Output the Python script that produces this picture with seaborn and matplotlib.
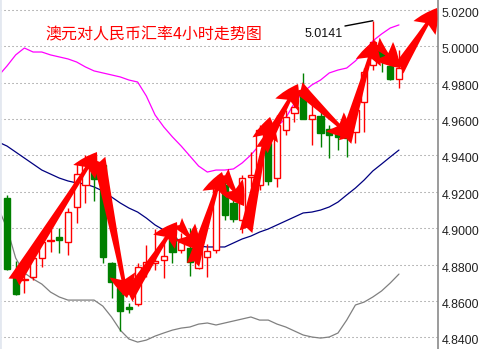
import numpy as np
import pandas as pd
import matplotlib
matplotlib.use("Agg")
import matplotlib.pyplot as plt
import matplotlib.transforms as mtransforms
from matplotlib.patches import Rectangle, FancyArrowPatch, ArrowStyle
import seaborn as sns

# ---------------- data (AUD/CNY 4h candles) ----------------
opens = [4.9166, 4.8754, 4.8715, 4.8732, 4.8836, 4.8930, 4.8952, 4.8924, 4.9117, 4.9238,
         4.9348, 4.9348, 4.8809, 4.8671, 4.8566, 4.8583, 4.8770, 4.8808, 4.8825, 4.8952,
         4.8880, 4.8891, 4.8781, 4.8842, 4.8880, 4.9238, 4.9139, 4.9045, 4.9281, 4.9238,
         4.9468, 4.9276, 4.9540, 4.9633, 4.9744, 4.9600, 4.9617, 4.9546, 4.9529, 4.9524,
         4.9529, 4.9694, 4.9898, 4.9980, 4.9892, 4.9820]
highs = [4.9183, 4.8819, 4.8825, 4.8897, 4.8979, 4.8996, 4.9001, 4.9111, 4.9359, 4.9403,
         4.9392, 4.9370, 4.8814, 4.8693, 4.8589, 4.8809, 4.8907, 4.8996, 4.8952, 4.9001,
         4.8974, 4.9001, 4.8907, 4.8913, 4.9249, 4.9276, 4.9166, 4.9293, 4.9419, 4.9568,
         4.9513, 4.9623, 4.9650, 4.9733, 4.9854, 4.9694, 4.9661, 4.9568, 4.9568, 4.9600,
         4.9678, 4.9881, 5.0141, 5.0008, 4.9914, 4.9980]
lows = [4.8770, 4.8633, 4.8644, 4.8715, 4.8787, 4.8869, 4.8864, 4.8853, 4.9029, 4.9139,
        4.9150, 4.8809, 4.8616, 4.8435, 4.8534, 4.8572, 4.8732, 4.8770, 4.8726, 4.8809,
        4.8864, 4.8737, 4.8776, 4.8732, 4.8864, 4.9045, 4.9034, 4.8974, 4.9227, 4.9210,
        4.9238, 4.9227, 4.9513, 4.9584, 4.9600, 4.9458, 4.9447, 4.9386, 4.9430, 4.9392,
        4.9469, 4.9529, 4.9870, 4.9859, 4.9815, 4.9771]
closes = [4.8776, 4.8638, 4.8720, 4.8836, 4.8924, 4.8935, 4.8935, 4.9089, 4.9298, 4.9359,
          4.9271, 4.8842, 4.8704, 4.8545, 4.8556, 4.8787, 4.8814, 4.8819, 4.8847, 4.8869,
          4.8924, 4.8814, 4.8886, 4.8875, 4.9232, 4.9073, 4.9051, 4.9276, 4.9293, 4.9540,
          4.9260, 4.9568, 4.9611, 4.9667, 4.9600, 4.9623, 4.9524, 4.9513, 4.9502, 4.9496,
          4.9650, 4.9859, 5.0024, 4.9930, 4.9820, 4.9881]

# Bollinger bands (first value belongs to the bar just left of the view)
band_upper = [4.9837, 4.9892, 4.9953, 4.9991, 4.9969, 4.9969, 4.9953, 4.9942, 4.9931, 4.9914,
              4.9887, 4.9865, 4.9854, 4.9843, 4.9832, 4.9815, 4.9804, 4.9727, 4.9623, 4.9557,
              4.9502, 4.9452, 4.9397, 4.9342, 4.9309, 4.9320, 4.9320, 4.9326, 4.9359, 4.9403,
              4.9458, 4.9513, 4.9557, 4.9606, 4.9689, 4.9749, 4.9788, 4.9815, 4.9854, 4.9870,
              4.9881, 4.9920, 4.9969, 5.0030, 5.0068, 5.0101, 5.0118]
band_mid = [4.9474, 4.9452, 4.9419, 4.9386, 4.9353, 4.9320, 4.9298, 4.9276, 4.9260, 4.9249,
            4.9243, 4.9227, 4.9205, 4.9172, 4.9139, 4.9111, 4.9089, 4.9056, 4.9018, 4.8990,
            4.8952, 4.8930, 4.8908, 4.8902, 4.8897, 4.8897, 4.8897, 4.8919, 4.8941, 4.8957,
            4.8979, 4.8996, 4.9018, 4.9040, 4.9062, 4.9084, 4.9089, 4.9100, 4.9117, 4.9144,
            4.9183, 4.9221, 4.9265, 4.9315, 4.9353, 4.9392, 4.9430]
band_lower = [4.9111, 4.9001, 4.8836, 4.8754, 4.8721, 4.8693, 4.8649, 4.8622, 4.8605, 4.8605,
              4.8605, 4.8605, 4.8572, 4.8512, 4.8440, 4.8391, 4.8374, 4.8385, 4.8407, 4.8424,
              4.8440, 4.8451, 4.8457, 4.8473, 4.8479, 4.8468, 4.8479, 4.8490, 4.8501, 4.8512,
              4.8495, 4.8495, 4.8473, 4.8457, 4.8435, 4.8413, 4.8402, 4.8396, 4.8402, 4.8424,
              4.8495, 4.8578, 4.8594, 4.8622, 4.8655, 4.8699, 4.8748]

# trend arrows drawn on the chart: (bar from, price from, bar to, price to)
arrow_x0 = [0.8, 10.56, 13.78, 19.52, 21.35, 24.80, 27.44, 29.28, 33.41, 38.81, 42.25, 44.89]
arrow_y0 = [4.8704, 4.9386, 4.8616, 4.9034, 4.8798, 4.9309, 4.8981, 4.9430, 4.9777, 4.9474, 5.0024, 4.9870]
arrow_x1 = [10.33, 13.78, 19.52, 22.16, 24.68, 27.21, 30.20, 33.41, 39.61, 42.25, 45.12, 49.37]
arrow_y1 = [4.9419, 4.8616, 4.9034, 4.8880, 4.9309, 4.9122, 4.9612, 4.9793, 4.9496, 5.0035, 4.9881, 5.0211]

yticks = [4.84, 4.86, 4.88, 4.90, 4.92, 4.94, 4.96, 4.98, 5.00, 5.02]
title = "澳元对人民币汇率4小时走势图"
high_label = "5.0141"
high_bar = 42

# ---------------- style ----------------
sns.set_style("white")
plt.rcParams["font.family"] = ["Liberation Sans", "Noto Sans CJK SC", "DejaVu Sans"]

fig = plt.figure(figsize=(4.8, 3.49), dpi=100)
ax = fig.add_axes([0, 0, 438 / 480, 1])
ax.set_facecolor("white")

n = len(opens)
idx = np.arange(n)

# bands
bands = pd.DataFrame({
    "bar": np.arange(-1, n),
    "upper": band_upper,
    "mid": band_mid,
    "lower": band_lower,
})
sns.lineplot(data=bands, x="bar", y="upper", ax=ax, color="#FF00FF", lw=0.9, zorder=1.5)
sns.lineplot(data=bands, x="bar", y="mid", ax=ax, color="#000080", lw=0.9, zorder=1.5)
sns.lineplot(data=bands, x="bar", y="lower", ax=ax, color="#808080", lw=0.9, zorder=1.5)

# candles
RED = "#FF0000"
GREEN = "#008000"
bw = 0.72
for i in idx:
    o, h, l, c = opens[i], highs[i], lows[i], closes[i]
    up = c >= o
    col = RED if up else GREEN
    ax.vlines(i, l, h, color=col, lw=1.0, zorder=2)
    bottom = min(o, c)
    height = max(abs(c - o), 0.0002)
    ax.add_patch(Rectangle((i - bw / 2, bottom), bw, height,
                           facecolor="white" if up else GREEN,
                           edgecolor=col, lw=1.0, zorder=3))

# arrows
style = ArrowStyle.Fancy(head_length=1.0, head_width=1.1, tail_width=0.55)
for x0, y0, x1, y1 in zip(arrow_x0, arrow_y0, arrow_x1, arrow_y1):
    ax.add_patch(FancyArrowPatch((x0, y0), (x1, y1), arrowstyle=style,
                                 mutation_scale=17, color=RED, lw=0,
                                 shrinkA=0, shrinkB=0, zorder=5))

# high annotation
ax.plot([38.8, high_bar], [5.0112, highs[high_bar]], color="black", lw=1, zorder=6)
ax.text(34.2, 5.0068, high_label, fontsize=9, color="#111111", va="center", ha="left", zorder=6)

# title
fig.text(45 / 480, 1 - 35 / 349, title, color="#FF0000", fontsize=11.5,
         va="center", ha="left", family=["Noto Sans CJK SC", "DejaVu Sans"])

# axes
ax.set_xlim(-0.80, 49.48)
ax.set_ylim(4.8336, 5.0255)
ax.set_xticks([])
ax.set_xlabel("")
ax.set_ylabel("")
ax.yaxis.tick_right()
ax.set_yticks(yticks)
ax.set_yticklabels([f"{v:.4f}" for v in yticks])
ax.tick_params(axis="y", length=0, pad=2.5, labelsize=8.9, labelcolor="#222222")
offset = mtransforms.ScaledTranslation(0, -2.5 / 100, fig.dpi_scale_trans)
for lab in ax.get_yticklabels():
    lab.set_transform(lab.get_transform() + offset)
ax.yaxis.grid(True, color="#808080", lw=0.75, linestyle=(0, (1, 2.84)))
ax.xaxis.grid(False)
for s in ["top", "bottom"]:
    ax.spines[s].set_visible(False)
ax.spines["right"].set_color("#8a8a8a")
ax.spines["right"].set_linewidth(1.2)
ax.spines["left"].set_color("#e3e8f0")
ax.spines["left"].set_linewidth(2)
ax.set_axisbelow(True)

fig.savefig("out.png", dpi=100)
